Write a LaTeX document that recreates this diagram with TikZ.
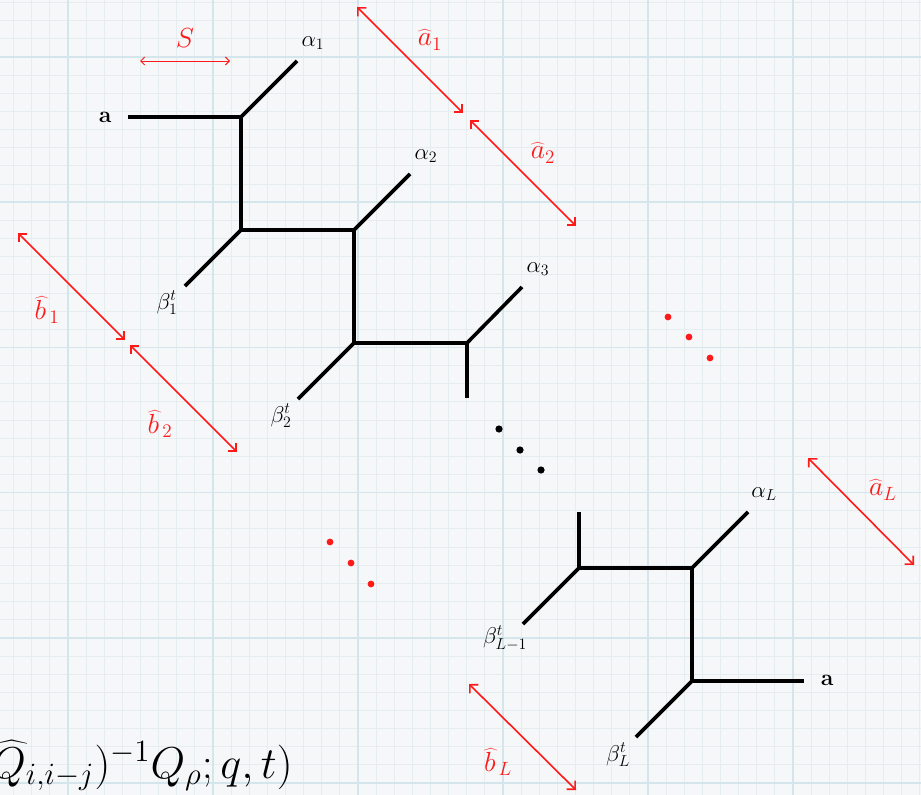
\documentclass[tikz,border=0pt]{standalone}
\usetikzlibrary{arrows.meta}
\definecolor{bgc}{HTML}{F5F7F9}
\definecolor{gmaj}{HTML}{D4E6EC}
\definecolor{gmin}{HTML}{E5EDF1}
\definecolor{myred}{HTML}{FF1A1A}
\begin{document}
\begin{tikzpicture}[x=1pt,y=-1pt,
  web/.style={line width=3.6pt, black, line join=miter},
  dim/.style={myred, line width=1.6pt, {Straight Barb[length=6pt,width=12pt]}-{Straight Barb[length=6pt,width=12pt]}},
  thindim/.style={myred, line width=1pt, {Straight Barb[length=4pt,width=8pt]}-{Straight Barb[length=4pt,width=8pt]}},
  lab/.style={font=\fontsize{20}{24}\selectfont, scale=1.1, inner sep=0pt},
  rlab/.style={font=\fontsize{20}{24}\selectfont, scale=1.33, text=myred, inner sep=0pt},
  bdot/.style={fill=black, draw=none},
  rdot/.style={fill=myred, draw=none}]
\clip (0,0) rectangle (921,795);
\fill[bgc] (0,0) rectangle (921,795);
% grid
\foreach \i in {-4,...,47} {
  \draw[gmin, line width=0.9pt] ({68+\i*18.125},0) -- ({68+\i*18.125},795);
  \draw[gmin, line width=0.9pt] (0,{57+\i*18.15}) -- (921,{57+\i*18.15});
}
\foreach \i in {-1,...,6} {
  \draw[gmaj, line width=1.6pt] ({68+\i*145},0) -- ({68+\i*145},795);
  \draw[gmaj, line width=1.6pt] (0,{57+\i*145.2}) -- (921,{57+\i*145.2});
}
% vertices
\coordinate (aL) at (128,117);
\coordinate (V1) at (241,117);
\coordinate (V2) at (241,230);
\coordinate (V3) at (354,230);
\coordinate (V4) at (354,343);
\coordinate (V5) at (467,343);
\coordinate (V5d) at (467,398);
\coordinate (A1) at (297,61);
\coordinate (B1) at (185,286);
\coordinate (A2) at (410,174);
\coordinate (B2) at (298,399);
\coordinate (A3) at (522,287);
\coordinate (V6u) at (579,512);
\coordinate (V6) at (579,568);
\coordinate (V7) at (692,568);
\coordinate (V8) at (692,681);
\coordinate (aR) at (804,681);
\coordinate (BLm) at (523,624);
\coordinate (AL) at (748,512);
\coordinate (BL) at (636,737);
% web
\draw[web] (aL) -- (V1) -- (V2) -- (V3) -- (V4) -- (V5) -- (V5d);
\draw[web] (V1) -- (A1);
\draw[web] (V2) -- (B1);
\draw[web] (V3) -- (A2);
\draw[web] (V4) -- (B2);
\draw[web] (V5) -- (A3);
\draw[web] (V6u) -- (V6) -- (V7) -- (V8) -- (aR);
\draw[web] (V6) -- (BLm);
\draw[web] (V7) -- (AL);
\draw[web] (V8) -- (BL);
% labels
\node[lab] (la) at (105,117) {$\mathbf{a}$};
\node[lab] (lar) at (827,680) {$\mathbf{a}$};
\node[lab] (lal1) at (313,43) {$\alpha_1$};
\node[lab] (lal2) at (426,156) {$\alpha_2$};
\node[lab] (lal3) at (538,269) {$\alpha_3$};
\node[lab] (lalL) at (764,494) {$\alpha_L$};
\node[lab] (lb1) at (167,303) {$\beta_1^t$};
\node[lab] (lb2) at (281,416) {$\beta_2^t$};
\node[lab] (lbLm) at (505,638) {$\beta_{L-1}^t$};
\node[lab] (lbL) at (618,755) {$\beta_L^t$};
% dots
\fill[bdot] (499,429) circle (3.6);
\fill[bdot] (520,450) circle (3.6);
\fill[bdot] (541,470) circle (3.6);
\fill[rdot] (668,317) circle (3.4);
\fill[rdot] (689,337) circle (3.4);
\fill[rdot] (710,358) circle (3.4);
\fill[rdot] (330,542) circle (3.4);
\fill[rdot] (351,563) circle (3.4);
\fill[rdot] (371,584) circle (3.4);
% red dimension arrows
\coordinate (s1) at (140,61); \coordinate (s2) at (230,61);
\coordinate (p1) at (357,7); \coordinate (p2) at (463,113);
\coordinate (q1) at (470,120); \coordinate (q2) at (576,226);
\coordinate (r1) at (18,233); \coordinate (r2) at (125,340);
\coordinate (t1) at (130,345); \coordinate (t2) at (237,452);
\coordinate (u1) at (808,458); \coordinate (u2) at (914,565);
\coordinate (w1) at (469,684); \coordinate (w2) at (576,790);
\draw[thindim] (s1) -- (s2);
\draw[dim] (p1) -- (p2);
\draw[dim] (q1) -- (q2);
\draw[dim] (r1) -- (r2);
\draw[dim] (t1) -- (t2);
\draw[dim] (u1) -- (u2);
\draw[dim] (w1) -- (w2);
\node[rlab] (lS) at (185,38) {$S$};
\node[rlab] (lah1) at (430,40) {$\widehat{a}_1$};
\node[rlab] (lah2) at (543,153) {$\widehat{a}_2$};
\node[rlab] (lbh1) at (47,310) {$\widehat{b\mkern2mu}_1$};
\node[rlab] (lbh2) at (160,424) {$\widehat{b\mkern2mu}_2$};
\node[rlab] (lahL) at (883,490) {$\widehat{a}_L$};
\node[rlab] (lbhL) at (498,762) {$\widehat{b\mkern2mu}_L$};
% partial formula
\node[anchor=base east, inner sep=0pt, font=\fontsize{20}{24}\selectfont, scale=2.15] (formula) at (293,778) {$\widehat{Q}_{i,i-j})^{-1}Q_\rho;q,t)$};
\end{tikzpicture}
\end{document}
